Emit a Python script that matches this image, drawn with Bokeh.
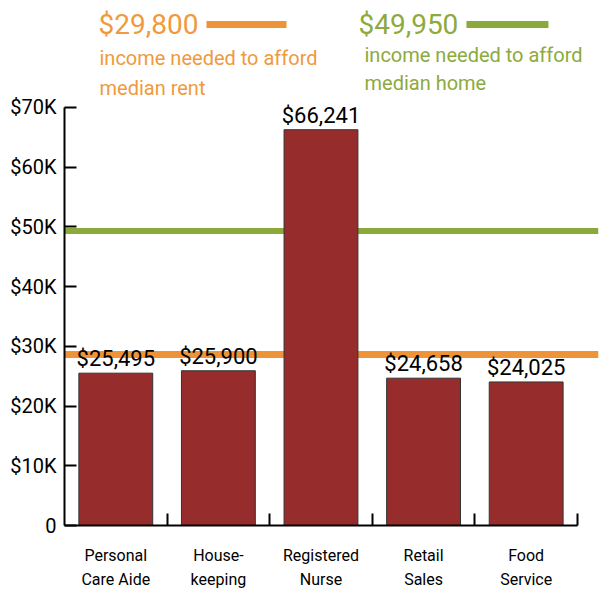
from bokeh.plotting import figure
from bokeh.models import Range1d, FixedTicker, Span, ColumnDataSource, Label
from bokeh.core.properties import value
from bokeh.embed import file_html
from bokeh.resources import INLINE

# ---- data ----
categories = ["Personal\nCare Aide", "House-\nkeeping", "Registered\nNurse", "Retail\nSales", "Food\nService"]
wages = [25495, 25900, 66241, 24658, 24025]
wage_labels = ["$25,495", "$25,900", "$66,241", "$24,658", "$24,025"]
rent_income = 28600      # drawn position of the "rent" line
home_income = 49300      # drawn position of the "home" line
rent_label = "$29,800"
home_label = "$49,950"
y_ticks = [0, 10000, 20000, 30000, 40000, 50000, 60000, 70000]
y_tick_labels = ["0", "$10K", "$20K", "$30K", "$40K", "$50K", "$60K", "$70K"]

FONT = "Roboto"
ORANGE_T = "#F0993E"
ORANGE_L = "#EE9337"
GREEN_T = "#8DAA3E"
GREEN_L = "#8CAA3C"
BAR = "#962C2B"

x_pos = [i + 0.5 for i in range(len(categories))]

p = figure(width=610, height=592, output_backend="svg", toolbar_location=None,
           x_range=Range1d(0, 5.205), y_range=Range1d(0, 87870),
           min_border_left=64, min_border_right=12, min_border_top=0, min_border_bottom=66)
p.outline_line_color = None
p.xgrid.grid_line_color = None
p.ygrid.grid_line_color = None
p.background_fill_color = "white"
p.border_fill_color = "white"

# reference lines (behind bars)
p.add_layout(Span(location=rent_income, dimension="width", line_color=ORANGE_L, line_width=7, level="underlay"))
p.add_layout(Span(location=home_income, dimension="width", line_color=GREEN_L, line_width=6, level="underlay"))

src = ColumnDataSource(dict(x=x_pos, top=wages, lab=wage_labels))
p.vbar(x="x", top="top", width=0.72, bottom=0, source=src, fill_color=BAR,
       line_color="#333333", line_width=1)
p.text(x="x", y="top", text="lab", source=src, text_align="center", text_baseline="bottom",
       y_offset=-2, text_font=value(FONT), text_font_size="22px", text_color="black")

# y axis
ya = p.yaxis[0]
ya.ticker = FixedTicker(ticks=y_ticks)
ya.major_label_overrides = {t: l for t, l in zip(y_ticks, y_tick_labels)}
ya.bounds = (0, 70000)
ya.axis_line_width = 2
ya.axis_line_color = "black"
ya.major_tick_line_width = 2
ya.major_tick_in = 12
ya.major_tick_out = 0
ya.minor_tick_line_color = None
ya.major_label_standoff = 8
ya.major_label_text_font = FONT
ya.major_label_text_font_size = "20px"
ya.major_label_text_color = "black"

# x axis
xa = p.xaxis[0]
xa.ticker = FixedTicker(ticks=x_pos, minor_ticks=[1, 2, 3, 4, 5])
xa.major_label_overrides = {x: c for x, c in zip(x_pos, categories)}
xa.bounds = (0, 5)
xa.axis_line_width = 2
xa.axis_line_color = "black"
xa.major_tick_line_color = None
xa.major_tick_in = 0
xa.major_tick_out = 0
xa.minor_tick_line_width = 2
xa.minor_tick_line_color = "black"
xa.minor_tick_in = 12
xa.minor_tick_out = 0
xa.major_label_standoff = 20
xa.major_label_text_font = FONT
xa.major_label_text_font_size = "16px"
xa.major_label_text_color = "black"
xa.major_label_text_line_height = 1.3

# ---- legend-like annotations (layout) ----
def lab(x, y, text, color, size):
    p.add_layout(Label(x=x, y=y, text=text, text_color=color, text_font=FONT,
                       text_font_size=size, text_baseline="middle", text_align="left"))

lab(0.331, 83860, rent_label, ORANGE_T, "28px")
p.segment(x0=[1.384], y0=[83860], x1=[2.164], y1=[83860], line_color=ORANGE_L, line_width=7)
lab(0.341, 78180, "income needed to afford", ORANGE_T, "20px")
lab(0.341, 73170, "median rent", ORANGE_T, "20px")

lab(2.865, 83860, home_label, GREEN_T, "28px")
p.segment(x0=[3.918], y0=[83860], x1=[4.717], y1=[83860], line_color=GREEN_L, line_width=7)
lab(2.924, 78680, "income needed to afford", GREEN_T, "20px")
lab(2.924, 74000, "median home", GREEN_T, "20px")

open("out.html", "w").write(file_html(p, INLINE))
